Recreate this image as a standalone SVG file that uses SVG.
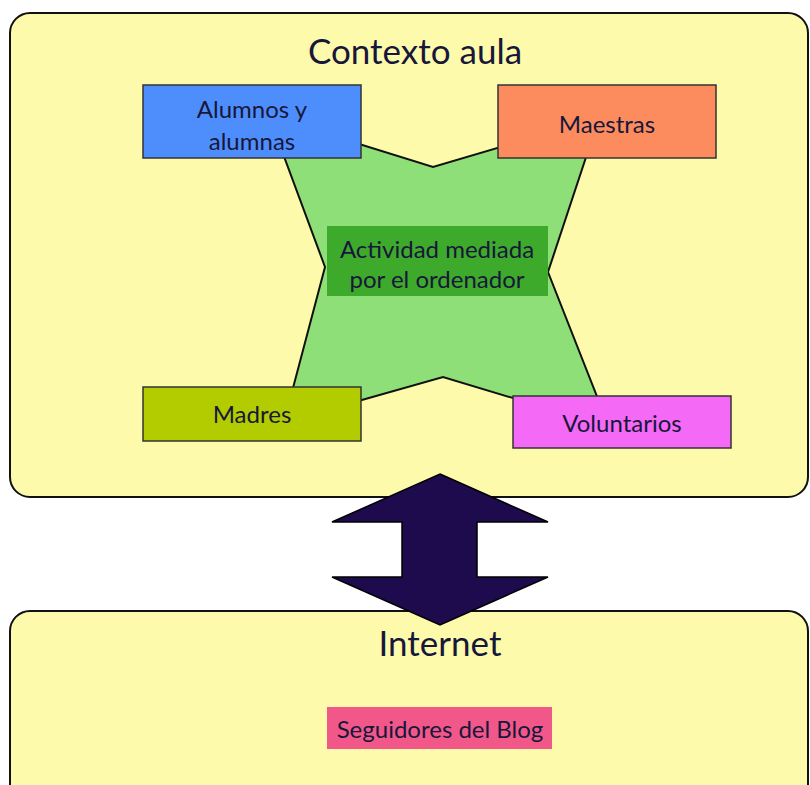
<svg xmlns="http://www.w3.org/2000/svg" width="810" height="785" viewBox="0 0 810 785">
<style>
text{font-family:Lato,"Liberation Sans",sans-serif;fill:#17173a;text-anchor:middle}
.ctx{fill:#fdfbab;stroke:#111;stroke-width:2}
.box{stroke:#333;stroke-width:1.5}
.lbl{font-size:24px}
.title{font-size:35px}
</style>
<rect width="810" height="785" fill="#fff"/>
<g id="contexto-aula">
<rect class="ctx" x="10" y="13" width="798" height="484" rx="20"/>
<text class="title" x="415" y="64">Contexto aula</text>
</g>
<g id="internet">
<rect class="ctx" x="10" y="611" width="798" height="200" rx="20"/>
<text class="title" x="440" y="656">Internet</text>
</g>
<g id="connectors">
<polygon points="440,474 548,522 477,522 477,577 548,577 440,625 332,577 402,577 402,522 332,522" fill="#1e0b4e" stroke="#000" stroke-width="1.5" stroke-linejoin="miter"/>
</g>
<g id="actividad">
<polygon points="269,116 433,167 599,118 548,272 609,427 443,377 284,422 325,267" fill="#8fdf78" stroke="#111" stroke-width="2"/>
<rect x="327" y="226" width="221" height="70" fill="#3daa2b"/>
<text class="lbl" x="437" y="258">Actividad mediada</text>
<text class="lbl" x="437" y="288">por el ordenador</text>
</g>
<g id="alumnos">
<rect class="box" x="143" y="85" width="218" height="73" fill="#4e8efc"/>
<text class="lbl" x="252" y="118">Alumnos y</text>
<text class="lbl" x="252" y="150">alumnas</text>
</g>
<g id="maestras">
<rect class="box" x="498" y="85" width="218" height="73" fill="#fc8c5e"/>
<text class="lbl" x="607" y="133">Maestras</text>
</g>
<g id="madres">
<rect class="box" x="143" y="387" width="218" height="54" fill="#b3cc00"/>
<text class="lbl" x="252" y="423">Madres</text>
</g>
<g id="voluntarios">
<rect class="box" x="513" y="396" width="218" height="52" fill="#f569f7"/>
<text class="lbl" x="622" y="432">Voluntarios</text>
</g>
<g id="seguidores">
<rect x="327" y="707" width="225" height="42" fill="#f2578a"/>
<text class="lbl" x="440" y="738">Seguidores del Blog</text>
</g>
</svg>
